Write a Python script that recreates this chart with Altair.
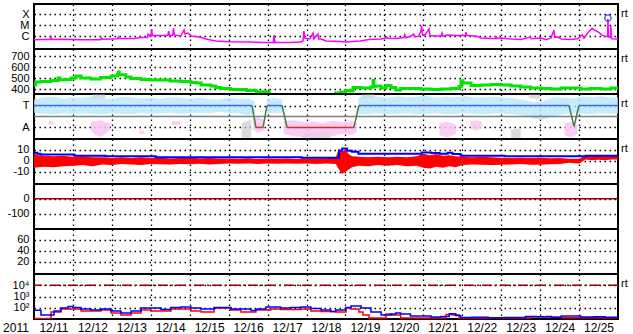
import json
import altair as alt
import pandas as pd

# ---------------- data: time in hours since 2011-12-11 00:00 UT ----------------
day_labels = ["12/11", "12/12", "12/13", "12/14", "12/15", "12/16", "12/17", "12/18",
              "12/19", "12/20", "12/21", "12/22", "12/23", "12/24", "12/25"]
year_label = "2011"
day_starts = [0, 24, 48, 72, 96, 120, 144, 168, 192, 216, 240, 264, 288, 312, 336]

# panel 1: X-ray flux (log10 W/m2)
xr_t = [0, 6, 10, 10.5, 11, 17, 23, 29, 35, 41, 41.5, 42, 47.5, 51.5, 52, 52.5, 57, 62, 66, 70,
        70.3, 71, 72, 72.5, 73, 78, 82.5, 83, 83.5, 85.5, 86, 86.5, 90.5, 92.5, 93, 95, 97, 100,
        103, 106, 109, 112, 121, 134, 143, 147.5, 148, 148.5, 158, 164.5, 165.8, 166.4, 167, 170,
        172, 172.5, 175, 175.5, 177, 180, 189, 192, 201, 206.5, 214, 217, 217.5, 218, 223, 228,
        228.5, 229, 232, 234, 234.5, 237, 238.5, 239, 239.5, 241, 243.5, 244, 248, 251, 251.5,
        252, 255, 260, 266, 266.3, 266.8, 272.4, 275.5, 281.7, 284.5, 284.8, 285.2, 288, 294,
        300, 306, 306.5, 312.5, 315.6, 318.7, 320.5, 321, 323, 325, 331, 335, 338, 339, 342,
        344, 346, 348, 350, 352, 353.6, 353.8, 354.1, 355.4, 355.6, 355.9, 360]
xr_v = [-6.34, -6.32, -6.32, -6.09, -6.32, -6.3, -6.32, -6.34, -6.34, -6.34, -6.18, -6.3, -6.27,
        -6.25, -6.09, -6.23, -6.23, -6.23, -6.14, -6.14, -5.82, -5.9, -6.0, -5.36, -5.95, -5.95,
        -5.95, -5.55, -5.95, -5.95, -5.27, -5.9, -6.0, -5.45, -5.8, -5.73, -6.0, -6.05, -6.14,
        -6.27, -6.36, -6.45, -6.52, -6.55, -6.59, -6.59, -5.91, -6.59, -6.59, -6.55, -6.45, -5.55,
        -6.2, -6.27, -5.73, -6.27, -5.82, -6.27, -6.27, -6.45, -6.5, -6.55, -6.45, -6.32, -6.27,
        -6.18, -6.09, -6.2, -6.23, -6.14, -5.9, -6.14, -6.05, -5.82, -6.05, -6.05, -5.55, -5.09,
        -5.91, -5.91, -5.36, -5.95, -6.0, -6.0, -5.73, -6.0, -5.91, -5.95, -5.95, -5.64, -5.95,
        -6.0, -6.18, -6.23, -6.23, -6.0, -6.23, -6.18, -6.27, -6.32, -6.1, -6.25, -6.18, -6.33,
        -6.18, -5.45, -6.1, -6.09, -6.27, -6.32, -6.25, -5.9, -6.2, -5.6, -5.3, -5.5, -5.65,
        -5.9, -6.05, -6.05, -4.45, -6.1, -6.1, -5.09, -6.25, -6.27]
flare_t = [353.8]
flare_v = [-4.36]

# panel 2: solar wind speed (km/s), two stretches with a data gap between them
sw_t = [[0, 1, 4.3, 10.5, 14.8, 16, 19.7, 22.8, 25.9, 29, 35, 41, 47.5, 51.5, 52, 52.5, 56.7,
         59.8, 66, 72, 78, 84, 90.6, 96.8, 100, 103, 109, 112, 115, 121, 131, 137, 143, 145],
        [185, 189, 192, 195, 196.6, 201.6, 207.7, 208.5, 209, 209.5, 210.8, 213.9, 217, 220,
         223, 226, 232, 238.5, 244.7, 251, 257, 262, 263.2, 264.4, 269.4, 275.5, 281.7, 288,
         294, 300, 306, 312.5, 318.7, 325, 331, 337, 343, 349.5, 355.6, 360]]
sw_v = [[436, 464, 468, 477, 500, 485, 486, 500, 518, 500, 491, 505, 518, 532, 555, 530, 509,
         495, 486, 482, 482, 473, 468, 459, 455, 436, 427, 414, 405, 395, 386, 375, 370, 364],
        [364, 373, 386, 382, 414, 409, 418, 418, 477, 425, 427, 409, 432, 414, 391, 405, 405,
         400, 395, 400, 405, 423, 475, 455, 432, 436, 441, 436, 427, 418, 409, 405, 400, 409,
         409, 400, 405, 400, 409, 400]]

# panel 3: IMF sector (T = +1, A = -1) with raw-data clouds
pol_t = [0, 134.4, 136.8, 141.2, 143.6, 152.9, 156, 197.2, 200.3, 329.8, 332.9, 335.9, 360]
pol_v = [1, 1, -1, -1, 1, 1, -1, -1, 1, 1, -0.9, 1, 1]
lb_t = [[0, 6, 12, 18, 24, 30, 36, 42, 48, 54, 60, 66, 72, 78, 84, 90, 96, 102, 108, 114, 120,
         126, 132, 136],
        [143.6, 148, 153],
        [200, 206, 212, 218, 224, 230, 236, 242, 248, 254, 260, 266, 272, 278, 284, 290, 296,
         302, 308, 314, 320, 326, 332, 338, 344, 350, 356, 360]]
lb_hi = [[1.55, 1.75, 1.8, 1.6, 1.75, 1.7, 1.85, 1.65, 1.6, 1.8, 1.75, 1.65, 1.7, 1.6, 1.75, 1.7,
          1.6, 1.7, 1.6, 1.55, 1.7, 1.6, 1.65, 1.4],
         [1.6, 1.7, 1.55],
         [1.75, 1.9, 1.8, 1.7, 1.85, 1.75, 1.8, 1.9, 1.7, 1.8, 1.75, 1.85, 1.7, 1.75, 1.8, 1.7,
          1.65, 1.5, 1.3, 1.4, 1.75, 1.7, 1.65, 1.8, 1.75, 1.85, 1.7, 1.75]]
lb_lo = [[0.35, 0.25, 0.2, 0.3, 0.2, 0.3, 0.25, 0.2, 0.3, 0.25, 0.2, 0.35, 0.25, 0.3, 0.35, 0.25,
          0.3, 0.35, 0.3, 0.4, 0.35, 0.3, 0.1, 0.2],
         [0.3, 0.35, 0.3],
         [0.25, 0.2, 0.3, 0.2, 0.25, 0.3, 0.2, 0.25, 0.3, 0.2, 0.25, 0.3, 0.25, 0.2, 0.3, 0.25,
          0.2, 0.1, -0.2, -0.3, 0.0, 0.2, 0.3, 0.25, 0.2, 0.3, 0.25, 0.25]]
pk_t = [[9, 12], [35, 38, 41, 44, 47], [65, 68], [85, 90], [135, 138, 142],
        [154, 160, 166, 172, 178, 184, 190, 196, 199], [250, 255, 260], [269, 273, 276],
        [327, 331, 335]]
pk_hi = [[-0.4, -0.45], [-0.5, -0.4, -0.35, -0.5, -0.6], [-1.25, -1.3], [-0.4, -0.45],
         [-0.2, -0.1, -0.3], [-0.4, -0.35, -0.5, -0.45, -0.6, -0.4, -0.5, -0.4, -0.6],
         [-0.6, -0.5, -0.7], [-0.4, -0.35, -0.5], [-0.6, -0.5, -0.7]]
pk_lo = [[-0.75, -0.7], [-1.3, -1.7, -1.85, -1.6, -1.2], [-1.6, -1.6], [-0.8, -0.75],
         [-1.2, -1.45, -1.3], [-1.6, -1.8, -1.9, -1.85, -1.7, -1.8, -1.6, -1.7, -1.4],
         [-1.7, -1.9, -1.6], [-1.1, -1.3, -1.0], [-1.7, -1.9, -1.6]]
gy_t = [[36, 44], [128, 134], [165, 175, 183], [202, 210], [294, 300], [305, 312]]
gy_hi = [[2.0, 2.0], [-0.6, -0.3], [-1.5, -1.4, -1.5], [2.0, 2.0], [-1.2, -1.1], [2.0, 2.0]]
gy_lo = [[1.6, 1.65], [-2.0, -2.0], [-2.0, -2.0, -2.0], [1.6, 1.7], [-2.0, -2.0], [1.7, 1.6]]

# panel 4: IMF Bt (blue) and Bz spread (red), nT
bt_t = [0, 2, 4, 23, 25, 41, 44, 72, 75, 115, 165, 185, 188, 190, 193, 196, 200, 238, 239, 245,
        250, 255, 258, 263, 288, 290, 337, 340, 360]
bt_v = [7.3, 6.4, 5.5, 5.5, 4.5, 4.5, 4, 4, 3.2, 3.2, 2.7, 2.7, 9, 11, 9, 8, 6.4, 6.4, 7.5, 7,
        6.4, 7.3, 6, 4.5, 4.5, 4, 4, 4.5, 4.5]
bz_t = [0, 3, 6, 12, 18, 24, 30, 36, 42, 48, 54, 60, 66, 72, 78, 84, 90, 96, 102, 108, 114, 120,
        126, 132, 138, 144, 150, 156, 162, 168, 174, 180, 186, 188, 190, 192, 194, 196, 200, 206,
        212, 218, 224, 230, 236, 240, 244, 248, 252, 256, 260, 264, 270, 276, 282, 288, 294, 300,
        306, 312, 318, 324, 330, 336, 340, 344, 348, 352, 356, 360]
bz_hi = [6.4, 5, 4.5, 4, 4.5, 3.5, 4, 3, 3, 2.5, 3, 2.5, 3, 2.5, 2.7, 2, 2.5, 3, 2, 2.5, 2, 2,
         1.8, 2.2, 1.5, 2, 1.8, 2, 1.5, 2, 1.8, 2, 3, 11, 8, 10, 6, 4, 3.6, 3, 3.5, 3, 3.5, 3, 4,
         6.4, 5, 6, 4.5, 5, 4, 3.5, 3, 3.6, 3, 2.7, 2.5, 2.7, 2.5, 2.7, 2.3, 2.5, 1.8, 1.8, 4.5,
         4, 4.5, 4, 4.5, 4.5]
bz_lo = [-6.4, -6, -5.5, -6, -5, -4.5, -4, -5, -3.5, -4, -3, -3.5, -4, -3, -3.2, -3.5, -3, -3.2,
         -2.8, -3.5, -3, -2.5, -2.7, -2.5, -3, -2.5, -2.7, -2.5, -2.8, -2.5, -3, -2.5, -3, -8, -12,
         -10, -8, -6, -4.5, -5, -4, -4.5, -4, -5, -4.5, -6.4, -7, -5.5, -6.5, -5, -6, -4, -3.5,
         -3.6, -4, -3.6, -3.5, -3, -3.8, -3.6, -3.2, -3, -1.8, -2.5, 1, 0.5, 0.9, 0.5, 1, 1]

# panel 5: Dst (flat at 0 over the period)
dst_t = [0, 360]
dst_v = [0, 0]

# panel 7: electron flux (log10), blue and red channels, and 10^4 alert threshold
eb_t = [0, 4.3, 8.6, 12.3, 16.6, 21, 24, 29, 35, 41.3, 47.5, 53.6, 59.8, 66, 72, 78.3, 84.4,
        90.6, 96.8, 103, 111, 121.4, 133.8, 136.8, 143, 152, 158.4, 164.6, 170.7, 177, 183, 186,
        192.3, 195.4, 201.6, 207.7, 214, 220, 223, 226, 232, 238.5, 244.7, 251, 256, 260, 263,
        270, 280, 290, 300, 303, 310, 316, 319, 325, 334, 337, 345, 352, 360]
eb_v = [1.77, 1.36, 1.36, 1.71, 1.98, 2.11, 2.02, 1.89, 1.8, 1.89, 1.71, 1.53, 1.71, 1.98, 1.98,
        1.84, 2.02, 2.07, 1.98, 1.89, 2.02, 1.89, 1.76, 1.89, 2.07, 1.98, 2.02, 2.07, 1.93, 1.8,
        1.67, 1.8, 2.02, 2.16, 1.98, 1.62, 1.36, 1.44, 1.53, 1.44, 1.27, 1.27, 1.18, 1.22, 1.47,
        1.31, 1.13, 1.15, 1.12, 1.13, 1.14, 1.22, 1.2, 1.22, 1.13, 1.27, 1.27, 1.18, 1.2, 1.16,
        1.18]
er_t = [0, 4.3, 7.4, 10.5, 16.6, 22.8, 29, 35, 41.3, 47.5, 53.6, 59.8, 66, 72, 78.3, 84.4, 90.6,
        96.8, 103, 111, 121.4, 127.6, 136.8, 146, 152, 164.6, 170.7, 177, 186, 192.3, 195.4,
        200.3, 202.8, 206.5, 215, 217, 220, 226, 251, 254, 258, 262, 306, 325, 360]
er_v = [1.04, 1.0, 1.04, 1.62, 1.89, 1.89, 1.71, 1.71, 1.8, 1.53, 1.36, 1.53, 1.8, 1.71, 1.71,
        1.89, 1.89, 1.71, 1.62, 1.98, 1.8, 1.62, 1.8, 1.89, 1.84, 1.89, 1.71, 1.67, 1.62, 1.98,
        1.89, 1.62, 1.36, 1.09, 1.09, 1.44, 1.36, 1.09, 1.09, 1.4, 1.36, 1.09, 1.18, 1.12, 1.09]
ef_threshold = [4]

# ---------------- styling ----------------
W, H = 584, 45
FONT = "Liberation Sans"
FS = 11
DOT = [1.5, 3.5]
T_END = 360


def seg_frame(ts, his, los=None):
    rows = []
    for k, tt in enumerate(ts):
        for i, t in enumerate(tt):
            r = {"seg": k, "h": t, "hi": his[k][i]}
            if los is not None:
                r["lo"] = los[k][i]
            rows.append(r)
    return pd.DataFrame(rows)


label_expr = json.dumps(day_labels) + "[round(datum.value / 24)]"


def xenc(show):
    ax = dict(values=day_starts, grid=True, gridColor="black", gridDash=DOT, gridWidth=1.3,
              domain=False, ticks=False, title=None, labels=show)
    if show:
        ax.update(labelExpr=label_expr, labelOffset=W / 30, labelPadding=3, labelFont=FONT,
                  labelFontSize=FS + 1, labelColor="black", labelOverlap=False,
                  labelFlush=False, labelBound=False)
    else:
        ax.update(minExtent=0, maxExtent=0)
    return alt.X("h:Q", scale=alt.Scale(domain=[0, T_END], nice=False, zero=False),
                 axis=alt.Axis(**ax))


def yaxis(values, expr):
    return alt.Axis(values=values, labelExpr=expr, grid=True, gridColor="black", gridDash=DOT,
                    gridWidth=1.3, domain=False, ticks=False, labelPadding=5, labelFont=FONT,
                    labelFontSize=FS, labelColor="black", minExtent=33, maxExtent=33,
                    title=None, labelOverlap=False, labelBound=False, labelFlush=False)


def ysc(domain):
    return alt.Scale(domain=domain, nice=False, zero=False)


def rt_text():
    return alt.Chart(pd.DataFrame({"s": ["rt"]})).mark_text(
        align="left", baseline="middle", font=FONT, fontSize=FS, color="black").encode(
        x=alt.value(W + 3), y=alt.value(10), text="s:N")


# ---- panel 1: X-ray
d1 = [-7.18, -3.09]
ax1 = yaxis([-6, -5, -4], json.dumps(["C", "M", "X"]) + "[round(datum.value) + 6]")
p1 = alt.layer(
    alt.Chart(pd.DataFrame({"h": xr_t, "v": xr_v})).mark_line(color="#ff00ff", strokeWidth=1.5, clip=True)
    .encode(x=xenc(False), y=alt.Y("v:Q", scale=ysc(d1), axis=ax1)),
    alt.Chart(pd.DataFrame({"h": flare_t, "v": flare_v})).mark_point(
        shape="circle", filled=False, color="#0000ff", size=40, strokeWidth=1.3)
    .encode(x=xenc(False), y=alt.Y("v:Q", scale=ysc(d1), axis=ax1)),
    rt_text(),
).properties(width=W, height=H)

# ---- panel 2: solar wind
d2 = [355, 764]
ax2 = yaxis([400, 500, 600, 700], "'' + datum.value")
sw_rows = [{"seg": k, "h": t, "v": v} for k in range(len(sw_t)) for t, v in zip(sw_t[k], sw_v[k])]
p2 = alt.layer(
    alt.Chart(pd.DataFrame(sw_rows)).mark_line(color="#00e600", strokeWidth=3, clip=True,
                                                interpolate="step-after")
    .encode(x=xenc(False), y=alt.Y("v:Q", scale=ysc(d2), axis=ax2), detail="seg:N"),
    rt_text(),
).properties(width=W, height=H)

# ---- panel 3: sector
d3 = [-2.05, 2.05]
ax3 = yaxis([1, -1], "datum.value > 0 ? 'T' : 'A'")
pol_rows = []
for i in range(len(pol_t) - 1):
    a, b = pol_v[i], pol_v[i + 1]
    kind = "T" if (a == 1 and b == 1) else ("A" if (a == -1 and b == -1) else "X")
    pol_rows.append({"h": pol_t[i], "h2": pol_t[i + 1], "v": a, "v2": b, "k": kind})


def band(df, color, op):
    return alt.Chart(df).mark_area(color=color, opacity=op, clip=True).encode(
        x=xenc(False), y=alt.Y("hi:Q", scale=ysc(d3), axis=ax3), y2="lo:Q", detail="seg:N")


p3 = alt.layer(
    band(seg_frame(gy_t, gy_hi, gy_lo), "#cccccc", 0.7),
    band(seg_frame(lb_t, lb_hi, lb_lo), "#b4e8fb", 0.8),
    band(seg_frame(pk_t, pk_hi, pk_lo), "#f9c4f2", 0.85),
    alt.Chart(pd.DataFrame({"v": [0]})).mark_rule(color="#808080", strokeWidth=1.5)
    .encode(y=alt.Y("v:Q", scale=ysc(d3), axis=ax3)),
    alt.Chart(pd.DataFrame(pol_rows)).mark_rule(strokeWidth=1.5, clip=True).encode(
        x=xenc(False), x2="h2:Q", y=alt.Y("v:Q", scale=ysc(d3), axis=ax3), y2="v2:Q",
        color=alt.Color("k:N", scale=alt.Scale(domain=["T", "A", "X"],
                                               range=["#4466ee", "#cc3030", "#4a7a4a"]),
                        legend=None)),
    rt_text(),
).properties(width=W, height=H)

# ---- panel 4: IMF
d4 = [-21.2, 19.7]
ax4 = yaxis([10, 0, -10], "'' + datum.value")
p4 = alt.layer(
    alt.Chart(pd.DataFrame({"h": bz_t, "hi": bz_hi, "lo": bz_lo})).mark_area(
        color="#ff0000", clip=True)
    .encode(x=xenc(False), y=alt.Y("hi:Q", scale=ysc(d4), axis=ax4), y2="lo:Q"),
    alt.Chart(pd.DataFrame({"h": bt_t, "v": bt_v})).mark_line(
        color="#0000ff", strokeWidth=2, clip=True, interpolate="step-after")
    .encode(x=xenc(False), y=alt.Y("v:Q", scale=ysc(d4), axis=ax4)),
    rt_text(),
).properties(width=W, height=H)

# ---- panel 5: Dst
d5 = [-202, 98]
ax5 = yaxis([0, -100], "'' + datum.value")
p5 = alt.Chart(pd.DataFrame({"h": dst_t, "v": dst_v})).mark_line(
    color="#a00000", strokeWidth=1.5, clip=True).encode(
    x=xenc(False), y=alt.Y("v:Q", scale=ysc(d5), axis=ax5)).properties(width=W, height=H)

# ---- panel 6: empty index panel
d6 = [-1.8, 79.5]
ax6 = yaxis([20, 40, 60], "'' + datum.value")
p6 = alt.Chart(pd.DataFrame({"h": pd.Series([], dtype=float), "v": pd.Series([], dtype=float)})).mark_line(
    color="black").encode(x=xenc(False), y=alt.Y("v:Q", scale=ysc(d6), axis=ax6)).properties(
    width=W, height=H)

# ---- panel 7: electrons
d7 = [1.0, 5.0]
ax7 = yaxis([2, 3, 4], json.dumps(["10²", "10³", "10⁴"], ensure_ascii=False) + "[round(datum.value) - 2]")
p7 = alt.layer(
    alt.Chart(pd.DataFrame({"v": ef_threshold})).mark_rule(
        color="#a00000", strokeWidth=1.5, strokeDash=[10, 3, 2, 3])
    .encode(y=alt.Y("v:Q", scale=ysc(d7), axis=ax7)),
    alt.Chart(pd.DataFrame({"h": er_t, "v": er_v})).mark_line(
        color="#ff0000", strokeWidth=1.5, clip=True, interpolate="step-after")
    .encode(x=xenc(True), y=alt.Y("v:Q", scale=ysc(d7), axis=ax7)),
    alt.Chart(pd.DataFrame({"h": eb_t, "v": eb_v})).mark_line(
        color="#0000ff", strokeWidth=1.5, clip=True, interpolate="step-after")
    .encode(x=xenc(True), y=alt.Y("v:Q", scale=ysc(d7), axis=ax7)),
    rt_text(),
    alt.Chart(pd.DataFrame({"s": [year_label]})).mark_text(
        align="center", baseline="middle", font=FONT, fontSize=FS + 1, color="black")
    .encode(x=alt.value(-18), y=alt.value(H + 9), text="s:N"),
).properties(width=W, height=H)

chart = alt.vconcat(p1, p2, p3, p4, p5, p6, p7, spacing=0, bounds="flush").properties(
    padding={"left": 0, "top": 3, "right": 2, "bottom": 0}, background="white"
).configure_view(stroke="black", strokeWidth=2)

chart.save("out.html", embed_options={"renderer": "svg", "actions": False})
